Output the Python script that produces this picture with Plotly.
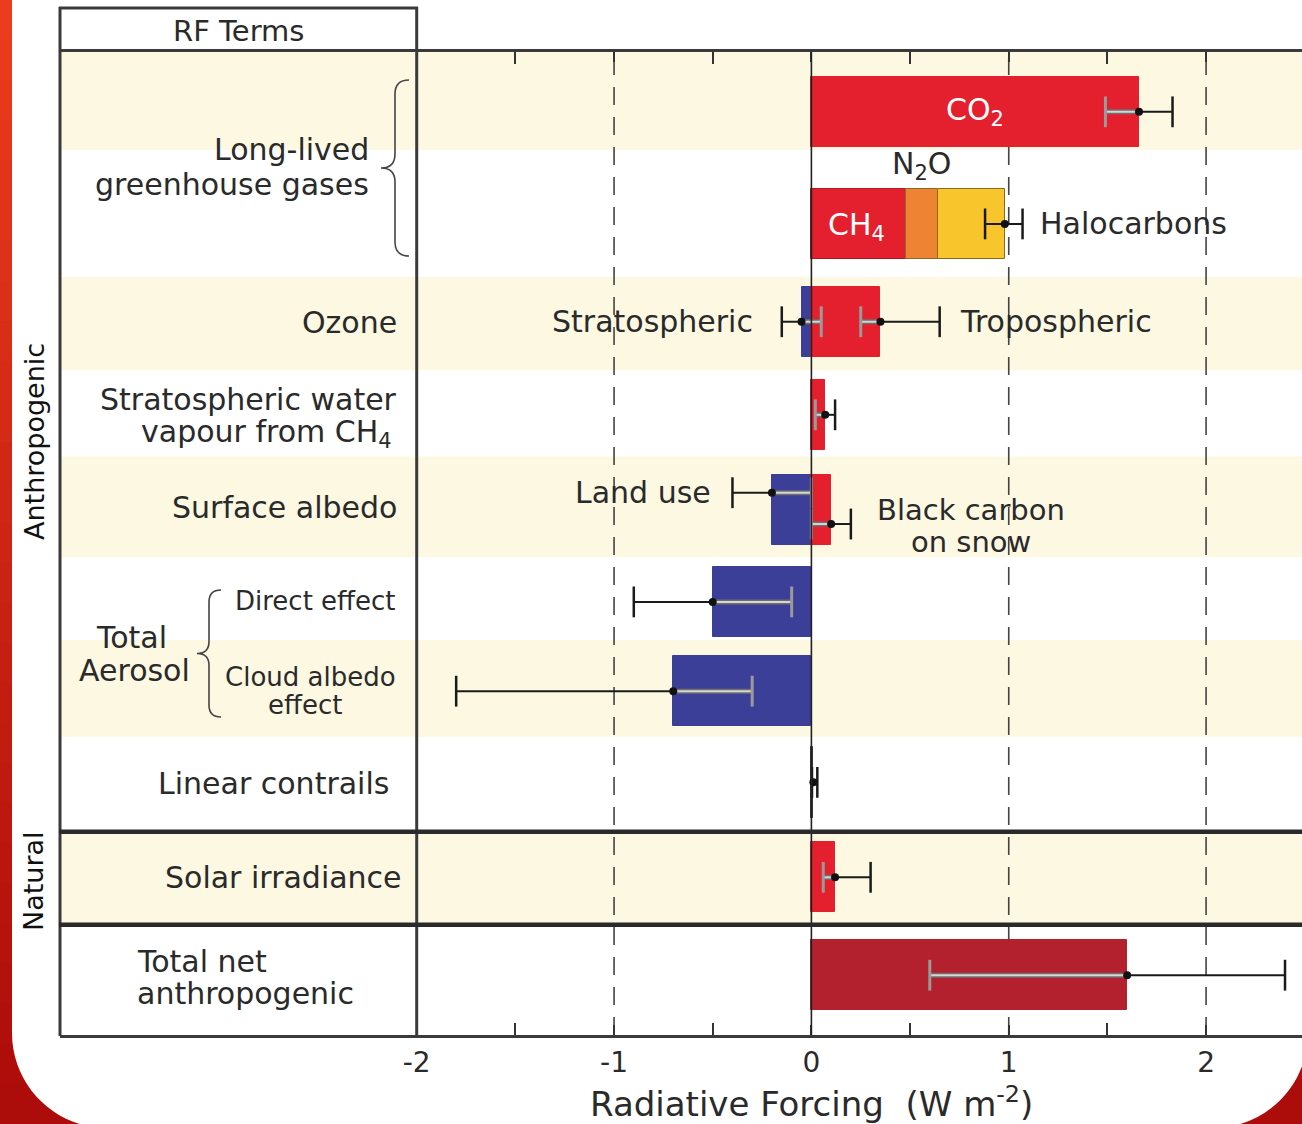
import plotly.graph_objects as go

W, H = 1302, 1124

# ---------------- data ----------------
terms = ["CO2", "LLGHG (CH4+N2O+Halocarbons)", "Ozone stratospheric", "Ozone tropospheric",
         "Stratospheric water vapour", "Land use", "Black carbon on snow",
         "Direct effect", "Cloud albedo effect", "Linear contrails",
         "Solar irradiance", "Total net anthropogenic"]
rf_value = [1.66, 0.98, -0.05, 0.35, 0.07, -0.20, 0.10, -0.50, -0.70, 0.01, 0.12, 1.60]
rf_low = [1.49, 0.88, -0.15, 0.25, 0.02, -0.40, 0.00, -0.90, -1.80, 0.003, 0.06, 0.60]
rf_high = [1.83, 1.07, 0.05, 0.65, 0.12, 0.00, 0.20, -0.10, -0.30, 0.03, 0.30, 2.40]

llghg_parts = ["CH4", "N2O", "Halocarbons"]
llghg_values = [0.48, 0.16, 0.34]

tick_vals = [-2, -1, 0, 1, 2]
tick_text = ["-2", "-1", "0", "1", "2"]
minor_vals = [-1.5, -0.5, 0.5, 1.5]

# ---------------- layout helpers (positions / styles) ----------------
row_pos = [0.63, 1.81, 2.84, 2.84, 3.82, 4.82, 4.82, 5.79, 6.73, 7.69, 8.69, 9.72]
err_pos = [0.63, 1.81, 2.84, 2.84, 3.82, 4.64, 4.97, 5.79, 6.73, 7.69, 8.69, 9.72]
RED, BLUE, DARKRED = "#E4202F", "#3B3F98", "#B3202E"
bar_colors = [RED, None, BLUE, RED, RED, BLUE, RED, BLUE, BLUE, "#3a3a3a", RED, DARKRED]
part_colors = [RED, "#EE8433", "#F8C52C"]
all_black = [False, True, False, False, False, False, False, False, False, True, False, False]
BAR_W = 0.74
Y_RANGE = [10.35, 0]
cream_bands = [(0, 1.03), (2.37, 3.35), (4.26, 5.32), (6.19, 7.21), (8.21, 9.19)]
CREAM = "#FCF8E2"
LINE = "#3a3a3a"
FONT = "DejaVu Sans"
TXT = "#2a2a2a"


def px(x):
    return x / W


def py(y):
    return 1 - y / H


fig = go.Figure()

# bars
for i, t in enumerate(terms):
    if i == 1:
        base = 0.0
        for name, v, c in zip(llghg_parts, llghg_values, part_colors):
            fig.add_trace(go.Bar(x=[v], y=[row_pos[i]], base=base, orientation="h", width=BAR_W,
                                 marker=dict(color=c, line=dict(color="#8a6a20" if c != RED else "#b01824", width=1)),
                                 name=name, showlegend=False, hoverinfo="name+x"))
            base += v
        continue
    fig.add_trace(go.Bar(x=[rf_value[i]], y=[row_pos[i]], base=0, orientation="h", width=BAR_W,
                         marker=dict(color=bar_colors[i], line=dict(color=bar_colors[i], width=1)),
                         name=t, showlegend=False, hoverinfo="name+x"))

# error bars: grey part (towards zero, inside bar) and black part (outside)
gx, gy, bx, by = [], [], [], []
gcx, gcy, bcx, bcy = [], [], [], []
for i in range(len(terms)):
    v, lo, hi, yp = rf_value[i], rf_low[i], rf_high[i], err_pos[i]
    if v >= 0:
        inner, outer = lo, hi
    else:
        inner, outer = hi, lo
    if all_black[i]:
        bx += [inner, outer, None]
        by += [yp, yp, None]
        bcx += [inner, outer]
        bcy += [yp, yp]
    else:
        gx += [inner, v, None]
        gy += [yp, yp, None]
        gcx.append(inner)
        gcy.append(yp)
        bx += [v, outer, None]
        by += [yp, yp, None]
        bcx.append(outer)
        bcy.append(yp)

fig.add_trace(go.Scatter(x=gx, y=gy, mode="lines", line=dict(color="#6f6f6f", width=5),
                         hoverinfo="skip", showlegend=False))
fig.add_trace(go.Scatter(x=gx, y=gy, mode="lines", line=dict(color="#d6d6d6", width=2),
                         hoverinfo="skip", showlegend=False))
fig.add_trace(go.Scatter(x=gcx, y=gcy, mode="markers",
                         marker=dict(symbol="line-ns", size=22, line=dict(color="#9a9a9a", width=3)),
                         hoverinfo="skip", showlegend=False))
fig.add_trace(go.Scatter(x=bx, y=by, mode="lines", line=dict(color="#1a1a1a", width=2),
                         hoverinfo="skip", showlegend=False))
fig.add_trace(go.Scatter(x=bcx, y=bcy, mode="markers",
                         marker=dict(symbol="line-ns", size=22, line=dict(color="#1a1a1a", width=2.5)),
                         hoverinfo="skip", showlegend=False))
fig.add_trace(go.Scatter(x=rf_value, y=err_pos, mode="markers",
                         marker=dict(color="#111", size=8), text=terms,
                         hoverinfo="text+x", showlegend=False))

# ---------------- shapes ----------------
shapes = []
# red frame with vertical gradient
top_c, bot_c = (236, 60, 30), (172, 12, 10)
nb = 28
for k in range(nb):
    f = k / (nb - 1)
    c = tuple(int(top_c[j] + (bot_c[j] - top_c[j]) * f) for j in range(3))
    shapes.append(dict(type="rect", xref="paper", yref="paper", x0=0, x1=1,
                       y0=py(H * (k + 1) / nb + 1), y1=py(H * k / nb), fillcolor="rgb(%d,%d,%d)" % c,
                       line=dict(width=0), layer="below"))
# white rounded card
r, k = 95, 0.5523
card = [("M", [(12, -30)]), ("L", [(12, 1033)]),
        ("C", [(12, 1033 + r * k), (107 - r * k, 1128), (107, 1128)]),
        ("L", [(1213, 1128)]),
        ("C", [(1213 + r * k, 1128), (1308, 1033 + r * k), (1308, 1033)]),
        ("L", [(1308, -30)])]
path = ""
for cmd, pts in card:
    path += cmd + " ".join("%.5f,%.5f" % (px(a), py(b)) for a, b in pts) + " "
path += "Z"
shapes.append(dict(type="path", xref="paper", yref="paper", path=path, fillcolor="white",
                   line=dict(width=0), layer="below"))
# cream bands
for y0, y1 in cream_bands:
    shapes.append(dict(type="rect", xref="paper", yref="y", x0=px(61), x1=1, y0=y0, y1=y1,
                       fillcolor=CREAM, line=dict(width=0), layer="below"))
# dashed reference lines
for xv in [-1, 1, 2]:
    shapes.append(dict(type="line", xref="x", yref="paper", x0=xv, x1=xv, y0=py(1035), y1=py(52),
                       line=dict(color="#444", width=1.6, dash="18px,12px"), layer="below"))
# zero line
shapes.append(dict(type="line", xref="x", yref="paper", x0=0, x1=0, y0=py(1035), y1=py(52),
                   line=dict(color="#222", width=1.6), layer="above"))
# left panel box
shapes.append(dict(type="line", xref="paper", yref="paper", x0=px(60), x1=px(60), y0=py(1036), y1=py(7),
                   line=dict(color=LINE, width=3)))
shapes.append(dict(type="line", xref="x", yref="paper", x0=-2, x1=-2, y0=py(1036), y1=py(7),
                   line=dict(color=LINE, width=3)))
shapes.append(dict(type="line", xref="paper", yref="paper", x0=px(59), x1=px(418), y0=py(8), y1=py(8),
                   line=dict(color=LINE, width=3)))
# natural section separators
for yv in [8.21, 9.19]:
    shapes.append(dict(type="line", xref="paper", yref="y", x0=px(59), x1=1, y0=yv, y1=yv,
                       line=dict(color="#2a2a2a", width=4.5)))


def brace(x_end, x_spine, x_tip, y_top, y_bot, d=14):
    ym = (y_top + y_bot) / 2
    seq = [("M", [(x_end, y_top)]), ("Q", [(x_spine, y_top), (x_spine, y_top + d)]),
           ("L", [(x_spine, ym - d)]), ("Q", [(x_spine, ym), (x_tip, ym)]),
           ("Q", [(x_spine, ym), (x_spine, ym + d)]), ("L", [(x_spine, y_bot - d)]),
           ("Q", [(x_spine, y_bot), (x_end, y_bot)])]
    s = ""
    for cmd, pts in seq:
        s += cmd + " ".join("%.5f,%.5f" % (px(a), py(b)) for a, b in pts) + " "
    return s.strip()


shapes.append(dict(type="path", xref="paper", yref="paper", path=brace(409, 395, 381, 80, 256),
                   line=dict(color="#444", width=1.6)))
shapes.append(dict(type="path", xref="paper", yref="paper", path=brace(221, 209, 197, 590, 717, d=12),
                   line=dict(color="#444", width=1.6)))

# ---------------- annotations ----------------
ann = []


def label(text, x, y, size=30, xanchor="center", color=TXT, xref="paper", yref="paper"):
    ann.append(dict(text=text, x=x, y=y, xref=xref, yref=yref, xanchor=xanchor, yanchor="middle",
                    showarrow=False, font=dict(family=FONT, size=size, color=color)))


label("RF Terms", px(238), py(31), size=29)
label("Long-lived", px(371), py(150), xanchor="right")
label("greenhouse gases", px(371), py(184), xanchor="right")
label("Ozone", px(399), py(322), xanchor="right")
label("Stratospheric water", px(399), py(399), xanchor="right")
label("vapour from CH<sub>4</sub>", px(394), py(433), xanchor="right")
label("Surface albedo", px(399), py(507), xanchor="right")
label("Direct effect", px(398), py(601), size=26, xanchor="right")
label("Cloud albedo", px(398), py(677), size=26, xanchor="right")
label("effect", px(305), py(705), size=26)
label("Total", px(131), py(637))
label("Aerosol", px(134), py(670))
label("Linear contrails", px(391), py(783), xanchor="right")
label("Solar irradiance", px(404), py(877), xanchor="right")
label("Total net", px(135), py(961), xanchor="left")
label("anthropogenic", px(135), py(993), xanchor="left")
ann.append(dict(text="Anthropogenic", x=px(34), y=py(442), xref="paper", yref="paper", textangle=-90,
                xanchor="center", yanchor="middle",
                showarrow=False, font=dict(family=FONT, size=27, color="#111")))
ann.append(dict(text="Natural", x=px(34), y=py(881), xref="paper", yref="paper", textangle=-90,
                xanchor="center", yanchor="middle",
                showarrow=False, font=dict(family=FONT, size=27, color="#111")))

# in-plot labels
label("CO<sub>2</sub>", 0.83, row_pos[0], color="white", xref="x", yref="y")
label("CH<sub>4</sub>", 0.23, row_pos[1] + 0.03, color="white", xref="x", yref="y")
label("N<sub>2</sub>O", 0.56, 1.19, xref="x", yref="y")
label("Halocarbons", 1.15, row_pos[1], xanchor="left", xref="x", yref="y")
label("Stratospheric", -0.285, row_pos[2], xanchor="right", xref="x", yref="y")
label("Tropospheric", 0.745, row_pos[3], xanchor="left", xref="x", yref="y")
label("Land use", -0.50, err_pos[5], xanchor="right", xref="x", yref="y")
label("Black carbon", 0.81, 4.82, size=29, xref="x", yref="y")
label("on snow", 0.81, 5.16, size=29, xref="x", yref="y")
# axis title
label("Radiative Forcing  (W m<sup>-2</sup>)", px(811), py(1102), size=34)

fig.update_layout(
    width=W, height=H,
    margin=dict(l=0, r=0, t=0, b=0, pad=0),
    paper_bgcolor="white", plot_bgcolor="rgba(0,0,0,0)",
    barmode="overlay", bargap=0,
    shapes=shapes, annotations=ann,
    showlegend=False,
    xaxis=dict(domain=[px(60), 1], range=[-2 - 357 / 197.5, (1302 - 811) / 197.5],
               tickmode="array", tickvals=tick_vals, ticktext=tick_text,
               ticks="inside", ticklen=10, tickwidth=2, tickcolor="#333",
               minor=dict(tickmode="array", tickvals=minor_vals, ticks="inside", ticklen=12,
                          tickwidth=2, tickcolor="#333"),
               showline=True, linewidth=3, linecolor=LINE, mirror="ticks",
               showgrid=False, zeroline=False, ticklabelstandoff=0,
               tickfont=dict(family=FONT, size=28, color=TXT), fixedrange=True),
    yaxis=dict(domain=[py(1035), py(52)], range=Y_RANGE, visible=False, showgrid=False,
               zeroline=False, fixedrange=True),
)

fig.write_html("out.html", config={"displayModeBar": False},
               post_script="document.body.style.margin='0px';document.body.style.overflow='hidden';")
